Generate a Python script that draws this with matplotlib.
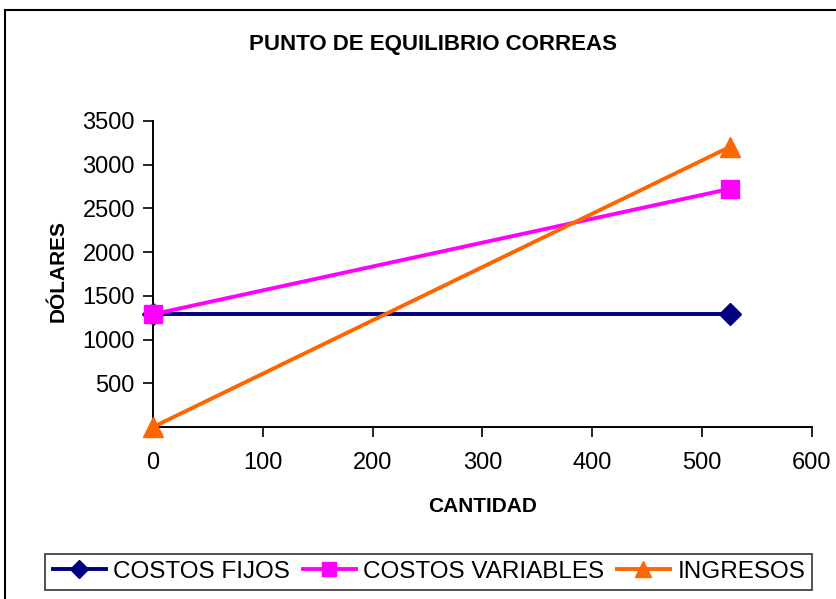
import matplotlib.pyplot as plt
from matplotlib.patches import Rectangle

plt.rcParams['font.family'] = ['Liberation Sans', 'DejaVu Sans']

cantidad = [0, 525]
costos_fijos = [1290, 1290]
costos_variables = [1290, 2723]
ingresos = [0, 3202]

x_ticks = [0, 100, 200, 300, 400, 500, 600]
y_ticks = [500, 1000, 1500, 2000, 2500, 3000, 3500]

fig = plt.figure(figsize=(8.37, 5.99), dpi=100)
ax = fig.add_axes([0.1828, 0.2871, 0.7872, 0.5109])

ax.plot(cantidad, costos_fijos, color='#000080', lw=2.8, marker='D', ms=11,
        label='COSTOS FIJOS', clip_on=False, zorder=3)
ax.plot(cantidad, costos_variables, color='#FF00FF', lw=2.8, marker='s', ms=13,
        label='COSTOS VARIABLES', clip_on=False, zorder=4)
ax.plot(cantidad, ingresos, color='#FF6600', lw=2.8, marker='^', ms=15,
        label='INGRESOS', clip_on=False, zorder=5)

ax.set_xlim(0, 600)
ax.set_ylim(0, 3500)
ax.set_xticks(x_ticks)
ax.set_yticks(y_ticks)
ax.tick_params(labelsize=17, length=7, width=1.2, direction='out', pad=6)
ax.tick_params(axis='x', pad=11)
for s in ['top', 'right']:
    ax.spines[s].set_visible(False)
for s in ['left', 'bottom']:
    ax.spines[s].set_linewidth(1.4)

fig.text(0.517, 0.925, 'PUNTO DE EQUILIBRIO CORREAS', ha='center', va='center',
         fontsize=16, fontweight='bold')
fig.text(0.577, 0.155, 'CANTIDAD', ha='center', va='center',
         fontsize=15, fontweight='bold')
fig.text(0.07, 0.548, 'DÓLARES', ha='center', va='center', rotation=90,
         fontsize=15, fontweight='bold')

leg = fig.legend(loc='center', bbox_to_anchor=(0.5125, 0.0451), ncol=3,
                 fontsize=17.5, frameon=True, fancybox=False, edgecolor='black',
                 handlelength=2.2, columnspacing=0.5, handletextpad=0.3,
                 borderpad=0.3, markerscale=0.8)
leg.get_frame().set_linewidth(1.2)

# marco exterior del grafico
fig.patches.append(Rectangle((0.006, -0.05), 1.1, 1.033, transform=fig.transFigure,
                             fill=False, edgecolor='black', lw=1.5))

fig.savefig('out.png', dpi=100)
